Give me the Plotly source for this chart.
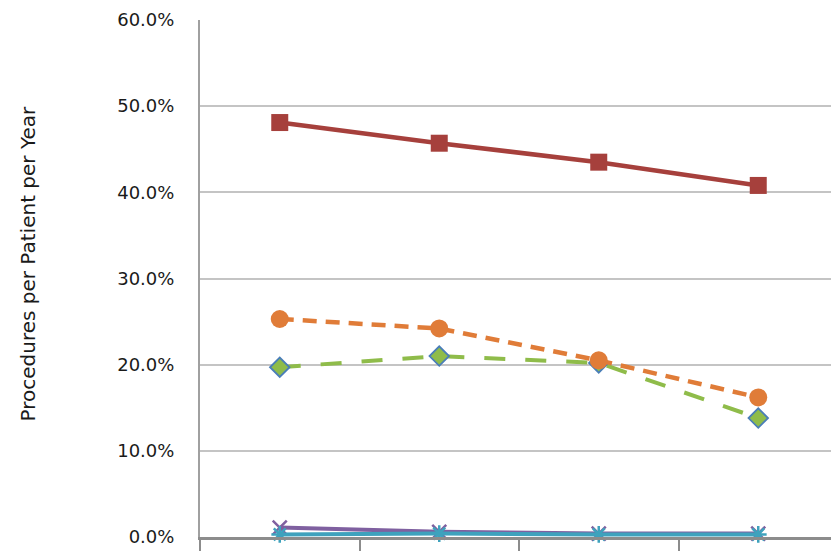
import plotly.graph_objects as go

categories = ["Year 1", "Year 2", "Year 3", "Year 4"]
series_names = ["Series A", "Series B", "Series C", "Series D", "Series E"]
red_vals = [48.1, 45.7, 43.5, 40.8]
orange_vals = [25.3, 24.2, 20.5, 16.2]
green_vals = [19.7, 21.0, 20.2, 13.8]
purple_vals = [1.1, 0.6, 0.4, 0.4]
teal_vals = [0.3, 0.4, 0.3, 0.3]
y_ticks = [0, 10, 20, 30, 40, 50, 60]
y_title = "Procedures per Patient per Year"

fig = go.Figure()

fig.add_trace(go.Scatter(
    x=categories, y=purple_vals, name=series_names[3], mode="lines+markers",
    line=dict(color="#7f60a0", width=4),
    marker=dict(symbol="x-thin-open", size=14, line=dict(color="#7f60a0", width=2.5)),
    cliponaxis=False))
fig.add_trace(go.Scatter(
    x=categories, y=teal_vals, name=series_names[4], mode="lines+markers",
    line=dict(color="#3ea2bd", width=4),
    marker=dict(symbol="asterisk-open", size=14, line=dict(color="#3ea2bd", width=2.5)),
    cliponaxis=False))
fig.add_trace(go.Scatter(
    x=categories, y=green_vals, name=series_names[2], mode="lines+markers",
    line=dict(color="#8fbc4a", width=4, dash="21px,20px"),
    marker=dict(symbol="diamond", size=15, color="#8fbc4a", line=dict(color="#4a7eb8", width=1.8)),
    cliponaxis=False))
fig.add_trace(go.Scatter(
    x=categories, y=orange_vals, name=series_names[1], mode="lines+markers",
    line=dict(color="#e07c38", width=4.5, dash="14px,9px"),
    marker=dict(symbol="circle", size=18, color="#e07c38"),
    cliponaxis=False))
fig.add_trace(go.Scatter(
    x=categories, y=red_vals, name=series_names[0], mode="lines+markers",
    line=dict(color="#a6403c", width=4.5),
    marker=dict(symbol="square", size=17, color="#a6403c"),
    cliponaxis=False))

fig.update_layout(
    width=831, height=543,
    margin=dict(l=192, r=1, t=12, b=14),
    paper_bgcolor="white", plot_bgcolor="white",
    showlegend=False,
    font=dict(family="DejaVu Sans", size=18, color="#1a1a1a"),
    xaxis=dict(
        type="category", categoryorder="array", categoryarray=categories,
        range=[-0.5, 3.5], tickson="boundaries", showticklabels=False,
        ticks="outside", ticklen=14, tickwidth=2, tickcolor="#8c8c8c",
        showgrid=False, showline=True, linecolor="#8c8c8c", linewidth=3,
        zeroline=False),
    yaxis=dict(
        range=[0, 60], tickvals=y_ticks,
        ticktext=[f"{v:.1f}%" for v in y_ticks],
        ticks="outside", ticklen=0, ticklabelstandoff=20,
        showgrid=True, gridcolor="#c4c4c4", gridwidth=2,
        showline=True, linecolor="#a0a0a0", linewidth=2, zeroline=False,
        tickfont=dict(size=18)),
)

fig.add_annotation(
    text=y_title, textangle=-90, xref="paper", yref="paper",
    x=(19 - 192) / 638, y=(12 + 517 - 255.5) / 517, xanchor="center", yanchor="middle",
    showarrow=False, font=dict(family="DejaVu Sans", size=20, color="#1a1a1a"))

fig.write_html("out.html")
